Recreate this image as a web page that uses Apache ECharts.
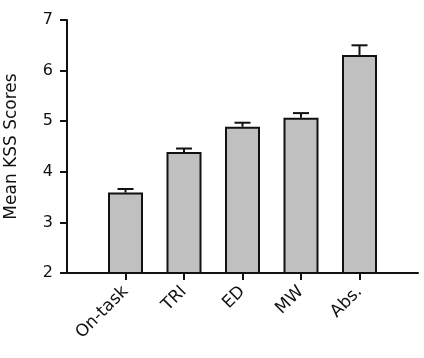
<!DOCTYPE html>
<html>
<head>
<meta charset="utf-8">
<script src="https://cdn.jsdelivr.net/npm/echarts@6/dist/echarts.min.js"></script>
<style>
  html, body { margin: 0; padding: 0; background: #fff; }
  #chart { width: 424px; height: 358px; }
</style>
</head>
<body>
<div id="chart"></div>
<script>
var categories = ['On-task', 'TRI', 'ED', 'MW', 'Abs.'];
var meanScores = [3.59, 4.39, 4.89, 5.07, 6.31];
var errUpper = [0.07, 0.07, 0.08, 0.09, 0.19];
var yTicks = [2, 3, 4, 5, 6, 7];

// empty slot on each side so the axis runs half a band past the bars
var axisCats = [''].concat(categories, ['']);
var barData = ['-'].concat(meanScores, ['-']);
var errData = meanScores.map(function (v, i) {
  return [i + 1, v, v + errUpper[i]];
});

var myChart = echarts.init(document.getElementById('chart'));
var option = {
  animation: false,
  textStyle: { fontFamily: 'DejaVu Sans' },
  grid: { left: 67, right: 6, top: 20, bottom: 85, outerBoundsMode: 'none', containLabel: false },
  xAxis: {
    type: 'category',
    data: axisCats,
    boundaryGap: false,
    axisLine: { lineStyle: { color: '#111', width: 2 } },
    axisTick: {
      length: 7,
      interval: function (idx, val) { return val !== ''; },
      lineStyle: { color: '#111', width: 2 }
    },
    axisLabel: {
      interval: 0,
      rotate: 45,
      fontSize: 17,
      color: '#111',
      margin: 16
    }
  },
  yAxis: {
    type: 'value',
    min: yTicks[0],
    max: yTicks[yTicks.length - 1],
    interval: 1,
    name: 'Mean KSS Scores',
    nameLocation: 'middle',
    nameGap: 47,
    nameTextStyle: { fontSize: 17, color: '#111' },
    axisLine: { show: true, lineStyle: { color: '#111', width: 2 } },
    axisTick: { show: true, length: 7, lineStyle: { color: '#111', width: 2 } },
    axisLabel: { fontSize: 16, color: '#111', margin: 14 },
    splitLine: { show: false }
  },
  series: [
    {
      type: 'bar',
      data: barData,
      barWidth: 35,
      itemStyle: { color: '#c0c0c0', borderColor: '#111', borderWidth: 2 },
      z: 2
    },
    {
      type: 'custom',
      data: errData,
      z: 3,
      renderItem: function (params, api) {
        var base = api.coord([api.value(0), api.value(1)]);
        var top = api.coord([api.value(0), api.value(2)]);
        var half = 8;
        var st = { stroke: '#111', lineWidth: 2 };
        return {
          type: 'group',
          children: [
            { type: 'line', shape: { x1: base[0], y1: base[1], x2: top[0], y2: top[1] }, style: st },
            { type: 'line', shape: { x1: top[0] - half, y1: top[1], x2: top[0] + half, y2: top[1] }, style: st }
          ]
        };
      }
    }
  ]
};
myChart.setOption(option);
</script>
</body>
</html>
